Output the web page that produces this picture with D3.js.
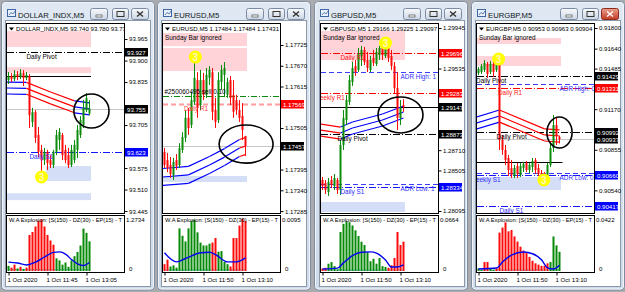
<!DOCTYPE html>
<meta charset="utf-8">
<style>
body{margin:0;background:#a9abae;}
svg{display:block;font-family:"Liberation Sans",Arial,sans-serif;}
</style>
<script src="https://cdn.jsdelivr.net/npm/d3@7"></script>
<body>
<svg id="chart" width="625" height="292"></svg>
<script>
var titles = ["DOLLAR_INDX,M5", "EURUSD,M5", "GBPUSD,M5", "EURGBP,M5"]
var infoLines = ["DOLLAR_INDX,M5 93.740 93.780 93.735", "EURUSD,M5 1.17484 1.17484 1.17431",
  "GBPUSD,M5 1.29166 1.29225 1.29097", "EURGBP,M5 0.90953 0.90963 0.90904"]
var sundayNote = [false, true, true, true]
var priceRanges = [[93.4391, 94.0135], [1.172799, 1.177833], [1.280747, 1.299956], [0.903644, 0.918388]]
var priceDigits = [3, 5, 5, 5]
var subMaxes = [1.2734, 0.0095, 0.0664, 0.0422]
var subMaxLabels = ["1.2734", "0.0095", "0.0664", "0.0422"]
var dzLevels = [0.03, 0.0002, 0.0012, 0.0008]
var bandHalf = [0.018, 0.000225, 0.000607, 0.00047]
var timeLabelsUsdx = ["1 Oct 2020", "1 Oct 11:45", "1 Oct 13:05"]
var timeLabelsFx = ["1 Oct 2020", "1 Oct 11:50", "1 Oct 13:10"]
var timeBars = [0, 13, 26]
var explosionLabel = "W.A Explosion: [S(150) - DZ(30) - EP(15) - T"

// candles: [open, high, low, close]
var usdxCandles = [
 [93.841,93.865,93.829,93.853],[93.853,93.862,93.835,93.844],[93.844,93.871,93.838,93.859],[93.859,93.868,93.841,93.850],
 [93.850,93.874,93.844,93.862],[93.862,93.871,93.823,93.847],[93.847,93.865,93.841,93.856],[93.853,93.859,93.696,93.735],
 [93.714,93.757,93.699,93.744],[93.744,93.750,93.651,93.666],[93.675,93.699,93.608,93.624],[93.630,93.645,93.563,93.599],
 [93.599,93.636,93.584,93.624],[93.624,93.630,93.569,93.590],[93.599,93.614,93.575,93.584],[93.584,93.630,93.575,93.624],
 [93.624,93.690,93.614,93.675],[93.660,93.696,93.630,93.684],[93.675,93.681,93.599,93.614],[93.630,93.645,93.590,93.599],
 [93.614,93.636,93.575,93.584],[93.584,93.645,93.578,93.630],[93.599,93.660,93.590,93.645],[93.630,93.705,93.605,93.690],
 [93.675,93.732,93.666,93.720],[93.705,93.781,93.696,93.757],[93.750,93.802,93.744,93.787],[93.740,93.780,93.735,93.755]]
var eurusdCandles = [
 [1.17442,1.17452,1.17399,1.17407],[1.17420,1.17439,1.17388,1.17399],[1.17407,1.17428,1.17373,1.17383],[1.17380,1.17426,1.17367,1.17415],
 [1.17420,1.17436,1.17394,1.17404],[1.17407,1.17465,1.17399,1.17452],[1.17447,1.17494,1.17439,1.17481],[1.17479,1.17553,1.17468,1.17532],
 [1.17532,1.17558,1.17487,1.17505],[1.17513,1.17601,1.17505,1.17579],[1.17574,1.17685,1.17566,1.17638],[1.17632,1.17653,1.17532,1.17558],
 [1.17566,1.17659,1.17553,1.17632],[1.17632,1.17651,1.17579,1.17593],[1.17593,1.17664,1.17585,1.17646],[1.17638,1.17669,1.17619,1.17659],
 [1.17653,1.17664,1.17526,1.17548],[1.17553,1.17585,1.17505,1.17521],[1.17526,1.17653,1.17518,1.17632],[1.17627,1.17672,1.17606,1.17659],
 [1.17646,1.17680,1.17587,1.17664],[1.17593,1.17638,1.17585,1.17627],[1.17632,1.17643,1.17566,1.17585],[1.17593,1.17632,1.17532,1.17548],
 [1.17579,1.17593,1.17540,1.17553],[1.17553,1.17579,1.17521,1.17532],[1.17537,1.17571,1.17473,1.17500],[1.17484,1.17484,1.17431,1.17457]]
var gbpusdCandles = [
 [1.28408,1.28439,1.28307,1.28348],[1.28378,1.28408,1.28267,1.28307],[1.28287,1.28429,1.28247,1.28388],[1.28408,1.28449,1.28327,1.28358],
 [1.28348,1.28469,1.28307,1.28429],[1.28408,1.28429,1.28267,1.28307],[1.28307,1.28813,1.28257,1.28762],[1.28762,1.29116,1.28712,1.29035],
 [1.29015,1.29268,1.28964,1.29217],[1.29197,1.29470,1.29167,1.29419],[1.29399,1.29601,1.29359,1.29541],[1.29561,1.29622,1.29460,1.29500],
 [1.29520,1.29743,1.29500,1.29682],[1.29662,1.29763,1.29561,1.29723],[1.29723,1.29753,1.29571,1.29601],[1.29622,1.29702,1.29500,1.29541],
 [1.29520,1.29662,1.29500,1.29622],[1.29642,1.29723,1.29561,1.29591],[1.29581,1.29743,1.29561,1.29702],[1.29672,1.29763,1.29622,1.29743],
 [1.29743,1.29783,1.29622,1.29672],[1.29662,1.29783,1.29642,1.29753],[1.29743,1.29763,1.29601,1.29642],[1.29662,1.29723,1.29520,1.29561],
 [1.29561,1.29601,1.29288,1.29338],[1.29338,1.29500,1.28914,1.29035],[1.29035,1.29217,1.28964,1.29136],[1.29166,1.29225,1.29097,1.29147]]
var eurgbpCandles = [
 [0.91451,0.91497,0.91435,0.91482],[0.91459,0.91521,0.91443,0.91505],[0.91474,0.91552,0.91459,0.91528],[0.91521,0.91536,0.91412,0.91443],
 [0.91459,0.91544,0.91443,0.91521],[0.91521,0.91536,0.91420,0.91459],[0.91474,0.91536,0.91459,0.91521],[0.91521,0.91544,0.90853,0.90931],
 [0.90931,0.90970,0.90815,0.90853],[0.90853,0.90892,0.90737,0.90776],[0.90791,0.90815,0.90652,0.90698],[0.90714,0.90776,0.90636,0.90659],
 [0.90652,0.90737,0.90636,0.90714],[0.90729,0.90752,0.90636,0.90667],[0.90659,0.90752,0.90644,0.90729],[0.90714,0.90760,0.90683,0.90745],
 [0.90752,0.90768,0.90683,0.90698],[0.90698,0.90752,0.90675,0.90737],[0.90721,0.90791,0.90683,0.90768],[0.90776,0.90791,0.90667,0.90698],
 [0.90714,0.90745,0.90652,0.90667],[0.90675,0.90698,0.90628,0.90644],[0.90652,0.90683,0.90613,0.90628],[0.90636,0.90752,0.90621,0.90737],
 [0.90737,0.90908,0.90721,0.90869],[0.90869,0.91125,0.90838,0.91047],[0.91047,0.91102,0.90892,0.90962],[0.90953,0.90963,0.90904,0.90937]]

// explosion histogram: + green, - red
var usdxHist = [0.12,-0.08,-0.15,0.06,-0.10,0.05,-0.08,-0.85,-0.92,-1.05,-1.18,-1.22,-1.05,-0.85,-0.72,-0.62,
 0.30,0.25,0.15,0.20,0.10,0.25,0.35,0.45,0.60,1.00,0.90,0.70]
var eurusdHist = [-0.0012,-0.0020,0.0008,0.0010,0.0006,0.0075,0.0062,0.0052,0.0075,0.0088,0.0090,0.0068,0.0050,0.0045,
 0.0045,0.0048,-0.0050,-0.0058,0.0034,0.0035,0.0016,0.0012,-0.0008,-0.0058,-0.0058,-0.0080,-0.0092,-0.0088]
var gbpusdHist = [-0.003,-0.004,0.009,0.011,0.006,0.002,0.048,0.058,0.061,0.060,0.056,0.050,0.043,0.036,
 0.032,0.023,0.012,0.015,0.009,0.016,0.006,0.005,-0.004,-0.007,-0.016,-0.048,-0.032,-0.036]
var eurgbpHist = [0.002,0.001,-0.007,-0.007,0.002,0.001,-0.002,-0.030,-0.034,-0.038,-0.031,-0.032,-0.027,-0.023,
 -0.019,-0.016,-0.014,-0.011,-0.008,-0.006,-0.005,-0.004,-0.004,-0.006,0.007,0.027,0.020,0.015]

// explosion line: [bar, value]
var usdxSignal = [[0,0.21],[3,0.19],[6,0.14],[9,0.21],[12,0.33],[15,0.44],[17,0.45],[19,0.40],[21,0.27],[23,0.17],[25,0.13],[27,0.20]]
var eurusdSignal = [[0,0.0032],[4,0.0016],[7,0.0022],[12,0.0032],[15,0.0033],[17,0.0029],[21,0.0016],[24,0.0016],[27,0.0023]]
var gbpusdSignal = [[0,0.0025],[5,0.0035],[7,0.010],[10,0.019],[13,0.023],[16,0.0235],[18,0.022],[21,0.0135],[23,0.005],[25,0.005],[27,0.0074]]
var eurgbpSignal = [[0,0.0016],[6,0.0023],[8,0.007],[11,0.0125],[15,0.0148],[18,0.0135],[21,0.0088],[23,0.0025],[25,0.0016],[27,0.0045]]

// channel middle line [bar, price] and trend of each segment
var usdxBand = [[-1,93.817],[6,93.816],[14,93.787],[22,93.760],[27,93.754]]
var usdxTrend = ["up","down","down","up"]
var eurusdBand = [[-1,1.17375],[8,1.17381],[15,1.17407],[20,1.17428],[25,1.17452],[27,1.17457]]
var eurusdTrend = ["up","up","up","up","down"]
var gbpusdBand = [[-1,1.28914],[6,1.28883],[10,1.28934],[20,1.29015],[27,1.29096]]
var gbpusdTrend = ["down","up","up","up"]
var eurgbpBand = [[-1,0.91060],[7,0.91117],[22,0.90970],[27,0.90962]]
var eurgbpTrend = ["up","down","down"]

// zones: [fromBar, toBar, high, low, type]
var usdxZones = [[0,27,93.989,93.941,"r"],[0,27,93.880,93.862,"r"],[13,27,93.581,93.536,"s"],[0,27,93.499,93.478,"s"]]
var eurusdZones = [[0,27,1.17757,1.17722,"r"],[0,27,1.17717,1.17656,"r"],[0,27,1.17378,1.17362,"s"]]
var gbpusdZones = [[0,27,1.29915,1.29622,"r"],[0,27,1.28186,1.28085,"s"]]
var eurgbpZones = [[0,27,0.91722,0.91676,"r"],[0,27,0.91583,0.91505,"r"],[0,27,0.90644,0.90543,"s"]]

var usdxLevels = [
 {p:93.755, kind:"bid", box:true},
 {p:93.927, kind:"pivot", box:true, label:"Daily Pivot", bar:6},
 {p:93.853, kind:"close", to:27.5},
 {p:93.623, kind:"sup", box:true, label:"Daily S1", bar:7}]
var eurusdLevels = [
 {p:1.17457, kind:"bid", box:true},
 {p:1.17590, kind:"order", label:"#250060495 sell 0.10", bar:0, above:true},
 {p:1.17569, kind:"resSoft", box:true, label:"Daily R1", bar:6.5}]
var gbpusdLevels = [
 {p:1.29696, kind:"res", box:true, label:"Daily R1", bar:6},
 {p:1.29500, kind:"adr", label:"ADR High: 1", bar:26},
 {p:1.29283, kind:"res", box:true, label:"Weekly R1", bar:-2.8},
 {p:1.29147, kind:"close", box:true},
 {p:1.28873, kind:"pivot", box:true, label:"Daily Pivot", bar:5},
 {p:1.28368, kind:"adr", label:"ADR Low: 1", bar:26},
 {p:1.28334, kind:"sup", box:true, label:"Daily S1", bar:6}]
var eurgbpLevels = [
 {p:0.90937, kind:"bid", box:true},
 {p:0.91429, kind:"pivot", box:true, label:"Daily Pivot", bar:-0.8},
 {p:0.91366, kind:"adr", label:"ADR High: 0", bar:27},
 {p:0.91331, kind:"res", box:true, label:"Daily R1", bar:6.5},
 {p:0.90992, kind:"pivot", box:true, label:"Daily Pivot", bar:6},
 {p:0.90760, kind:"close", to:28},
 {p:0.90675, kind:"adr", label:"ADR Low: 0", bar:27},
 {p:0.90660, kind:"sup", box:true, label:"Weekly S1", bar:-2.8},
 {p:0.90417, kind:"sup", box:true, label:"Daily S1", bar:7}]

// "3" markers [bar, price] and the circled area [fromBar, toBar, high, low]
var usdxMarks = [[11,93.548]]
var eurusdMarks = [[10.3,1.17693]]
var gbpusdMarks = [[21,1.29793]]
var eurgbpMarks = [[6.7,0.91559],[21.8,0.90621]]
var usdxEllipse = [21.8,33.5,93.799,93.696]
var eurusdEllipse = [18.2,36.2,1.17513,1.17412]
var gbpusdEllipse = [18.5,33.5,1.29248,1.28884]
var eurgbpEllipse = [22.8,31.2,0.91109,0.90869]

var usdxTicks = [93.965,93.900,93.835,93.770,93.705,93.640,93.575,93.510,93.445]
var eurusdTicks = [1.17725,1.17670,1.17615,1.17560,1.17505,1.17450,1.17395,1.17340,1.17285]
var gbpusdTicks = [1.29945,1.29740,1.29535,1.29330,1.29125,1.28915,1.28710,1.28505,1.28300,1.28095]
var eurgbpTicks = [0.91800,0.91640,0.91485,0.91325,0.91170,0.91010,0.90855,0.90695,0.90540,0.90380]

var charts = [
 {candles:usdxCandles, hist:usdxHist, signal:usdxSignal, band:usdxBand, trend:usdxTrend, zones:usdxZones,
  levels:usdxLevels, marks:usdxMarks, ellipse:usdxEllipse, ticks:usdxTicks, times:timeLabelsUsdx},
 {candles:eurusdCandles, hist:eurusdHist, signal:eurusdSignal, band:eurusdBand, trend:eurusdTrend, zones:eurusdZones,
  levels:eurusdLevels, marks:eurusdMarks, ellipse:eurusdEllipse, ticks:eurusdTicks, times:timeLabelsFx},
 {candles:gbpusdCandles, hist:gbpusdHist, signal:gbpusdSignal, band:gbpusdBand, trend:gbpusdTrend, zones:gbpusdZones,
  levels:gbpusdLevels, marks:gbpusdMarks, ellipse:gbpusdEllipse, ticks:gbpusdTicks, times:timeLabelsFx},
 {candles:eurgbpCandles, hist:eurgbpHist, signal:eurgbpSignal, band:eurgbpBand, trend:eurgbpTrend, zones:eurgbpZones,
  levels:eurgbpLevels, marks:eurgbpMarks, ellipse:eurgbpEllipse, ticks:eurgbpTicks, times:timeLabelsFx}
]
charts.forEach(function(c, k){
	c.title = titles[k]; c.info = infoLines[k]; c.sunday = sundayNote[k]
	c.range = priceRanges[k]; c.digits = priceDigits[k]; c.subMax = subMaxes[k]
	c.subLabel = subMaxLabels[k]; c.dz = dzLevels[k]; c.half = bandHalf[k]; c.active = (k == 3)
})

// ---- layout / styles ----
var FRAME_X = [1, 157, 314, 471], FRAME_W = 153
var PLOT_X = [6, 162, 320, 476], PLOT_W = 118, AREA_W = 144
var TOP = 23, MAIN_B = 213, SUB_T = 215, SUB_B = 272
var FS = 6.1
var UP = "#0b8c0b", DN = "#ff0a0a"
var LEVEL = {
	pivot:{stroke:"#000", dash:"7,2,1,2", box:"#000", text:"#000"},
	res:{stroke:"#ff0000", dash:"7,2,1,2", box:"#ff0000", text:"#ff2020"},
	resSoft:{stroke:"#ff9c9c", dash:"5,3", width:2, box:"#ff0000", text:"#ff4040"},
	sup:{stroke:"#1414ff", dash:"7,2,1,2", box:"#0000ff", text:"#2b2bff"},
	adr:{stroke:"#3c3cff", dash:"5,3", text:"#3030ff"},
	bid:{stroke:"#c6c6c6", box:"#000"},
	close:{stroke:"#000", box:"#000"},
	order:{stroke:"#0a8a0a", dash:"6,2,1,2", text:"#000"}
}

var svg = d3.select("#chart")
var defs = svg.append("defs")
function grad(id, a, b){
	var gr = defs.append("linearGradient").attr("id", id).attr("x1",0).attr("y1",0).attr("x2",0).attr("y2",1)
	gr.append("stop").attr("offset","0").attr("stop-color", a)
	gr.append("stop").attr("offset","1").attr("stop-color", b)
}
grad("btn", "#f8fafd", "#cbd6e4")
grad("btnRed", "#eba08f", "#c23a24")
grad("frame", "#dfe8f3", "#cfdbea")

function drawWindow(c, k){
	var fx = FRAME_X[k], px = PLOT_X[k], pr = px + PLOT_W, fr = fx + FRAME_W
	var g = svg.append("g")

	// window frame + title bar
	g.append("rect").attr("x", fx+0.5).attr("y", 1.5).attr("width", FRAME_W).attr("height", 288.5)
		.attr("rx", 4).attr("fill", "url(#frame)").attr("stroke", "#7c8ca2")
	g.append("rect").attr("x", fx+1.5).attr("y", 2.5).attr("width", FRAME_W-2).attr("height", 286.5)
		.attr("rx", 3).attr("fill", "none").attr("stroke", "#f1f5fa")
	g.append("rect").attr("x", fx+6.5).attr("y", 9.5).attr("width", 8).attr("height", 7)
		.attr("fill", "#eaf1fa").attr("stroke", "#3d66a3")
	g.append("path").attr("d", "M"+(fx+8)+",15l2,-2.5l2,1.5l2,-3").attr("fill","none")
		.attr("stroke","#3d66a3").attr("stroke-width",0.8)
	g.append("text").attr("x", fx+17).attr("y", 17.5).attr("font-size", 7.7).attr("fill", "#101820").text(c.title)
	var btns = [[fr-64, 17], [fr-42, 16], [fr-23, 17]]
	btns.forEach(function(b, j){
		var red = (j == 2 && c.active)
		g.append("rect").attr("x", b[0]+0.5).attr("y", 8.5).attr("width", b[1]).attr("height", 11).attr("rx", 2)
			.attr("fill", red ? "url(#btnRed)" : "url(#btn)").attr("stroke", red ? "#8d2a1b" : "#7a8ba3")
		var cx = b[0] + b[1]/2 + 0.5, cy = 14
		if (j == 0) g.append("rect").attr("x", cx-3).attr("y", cy+1).attr("width", 6).attr("height", 2)
			.attr("fill", "#fff").attr("stroke", "#333").attr("stroke-width", 0.6)
		if (j == 1) g.append("rect").attr("x", cx-3.5).attr("y", cy-2.5).attr("width", 7).attr("height", 5)
			.attr("fill", "none").attr("stroke", "#333").attr("stroke-width", 1)
		if (j == 2) g.append("path").attr("d", "M"+(cx-3)+","+(cy-2.5)+"L"+(cx+3)+","+(cy+2.5)+"M"+(cx+3)+","+(cy-2.5)+"L"+(cx-3)+","+(cy+2.5))
			.attr("stroke", red ? "#fff" : "#333").attr("stroke-width", 1.4)
	})

	// chart client area
	g.append("rect").attr("x", px-0.5).attr("y", 20.5).attr("width", AREA_W+1).attr("height", 266)
		.attr("fill", "#fff").attr("stroke", "#8d99a8")

	var xs = d3.scaleLinear().domain([0, 1]).range([px+2.5, px+5.5])
	var ys = d3.scaleLinear().domain(c.range).range([MAIN_B, TOP])
	var ss = d3.scaleLinear().domain([0, c.subMax]).range([SUB_B-1, SUB_T+2])

	defs.append("clipPath").attr("id", "mc"+k).append("rect")
		.attr("x", px+1).attr("y", TOP+1).attr("width", PLOT_W-1).attr("height", MAIN_B-TOP-1)
	defs.append("clipPath").attr("id", "sc"+k).append("rect")
		.attr("x", px+1).attr("y", SUB_T+1).attr("width", PLOT_W-1).attr("height", SUB_B-SUB_T-1)
	var mg = g.append("g").attr("clip-path", "url(#mc"+k+")")
	var sg = g.append("g").attr("clip-path", "url(#sc"+k+")")

	// zones
	mg.selectAll("rect.zone").data(c.zones).join("rect").attr("class","zone")
		.attr("x", function(d){ return xs(d[0]) - 1.5 })
		.attr("width", function(d){ return xs(d[1]) - xs(d[0]) + 3 })
		.attr("y", function(d){ return ys(d[2]) })
		.attr("height", function(d){ return ys(d[3]) - ys(d[2]) })
		.attr("fill", function(d){ return d[4] == "s" ? "#d4def6" : "#ffd3d8" })

	// horizontal levels
	mg.selectAll("line.lvl").data(c.levels).join("line").attr("class","lvl")
		.attr("x1", px+1).attr("x2", function(d){ return d.to != null ? xs(d.to) : pr })
		.attr("y1", function(d){ return Math.round(ys(d.p)) + 0.5 })
		.attr("y2", function(d){ return Math.round(ys(d.p)) + 0.5 })
		.attr("stroke", function(d){ return LEVEL[d.kind].stroke })
		.attr("stroke-width", function(d){ return LEVEL[d.kind].width || 1 })
		.attr("stroke-dasharray", function(d){ return LEVEL[d.kind].dash || null })

	// channel (three lines)
	;[-1, 0, 1].forEach(function(s){
		c.band.slice(1).forEach(function(b, j){
			var a = c.band[j]
			mg.append("line").attr("x1", xs(a[0])).attr("y1", ys(a[1] + s*c.half))
				.attr("x2", xs(b[0])).attr("y2", ys(b[1] + s*c.half))
				.attr("stroke", c.trend[j] == "up" ? "#0000ff" : "#ff0000").attr("stroke-width", 1.2)
		})
	})

	// candles
	mg.selectAll("line.wick").data(c.candles).join("line").attr("class","wick")
		.attr("x1", function(d,i){ return xs(i) }).attr("x2", function(d,i){ return xs(i) })
		.attr("y1", function(d){ return ys(d[1]) }).attr("y2", function(d){ return ys(d[2]) })
		.attr("stroke", function(d){ return d[3] >= d[0] ? UP : DN })
	mg.selectAll("rect.body").data(c.candles).join("rect").attr("class","body")
		.attr("x", function(d,i){ return xs(i) - 1 }).attr("width", 2)
		.attr("y", function(d){ return ys(Math.max(d[0], d[3])) })
		.attr("height", function(d){ return Math.max(1, Math.abs(ys(d[0]) - ys(d[3]))) })
		.attr("fill", function(d){ return d[3] >= d[0] ? UP : DN })

	// level captions
	mg.selectAll("text.lvl").data(c.levels.filter(function(d){ return d.label })).join("text").attr("class","lvl")
		.attr("x", function(d){ return xs(d.bar) })
		.attr("y", function(d){ return ys(d.p) + (d.above ? -1.5 : 7) })
		.attr("font-size", FS + 0.3).attr("fill", function(d){ return LEVEL[d.kind].text }).text(function(d){ return d.label })

	// circled area and markers
	var e = c.ellipse
	mg.append("ellipse").attr("cx", (xs(e[0]) + xs(e[1]))/2).attr("rx", (xs(e[1]) - xs(e[0]))/2)
		.attr("cy", (ys(e[2]) + ys(e[3]))/2).attr("ry", Math.abs(ys(e[3]) - ys(e[2]))/2)
		.attr("fill", "none").attr("stroke", "#000").attr("stroke-width", 1.6)
	var mk = mg.selectAll("g.mk").data(c.marks).join("g").attr("class","mk")
		.attr("transform", function(d){ return "translate(" + xs(d[0]) + "," + ys(d[1]) + ")" })
	mk.append("circle").attr("r", 6.5).attr("fill", "#ffff00")
	mk.append("text").attr("text-anchor","middle").attr("y", 3.6).attr("font-size", 10).attr("font-weight","bold")
		.attr("fill", "#fff7b8").text("3")

	// info line
	mg.append("path").attr("d", "M"+(px+3)+",27.5h5l-2.5,3z").attr("fill", "#000")
	mg.append("text").attr("x", px+10).attr("y", 31).attr("font-size", FS).attr("fill", "#000").text(c.info)
	if (c.sunday) mg.append("text").attr("x", px+3).attr("y", 39.5).attr("font-size", FS+0.3).attr("fill", "#000").text("Sunday Bar ignored")

	// plot borders
	g.append("rect").attr("x", px+0.5).attr("y", TOP+0.5).attr("width", PLOT_W).attr("height", MAIN_B-TOP)
		.attr("fill", "none").attr("stroke", "#000")
	g.append("rect").attr("x", px+0.5).attr("y", SUB_T+0.5).attr("width", PLOT_W).attr("height", SUB_B-SUB_T)
		.attr("fill", "none").attr("stroke", "#000")

	// price axis (grid labels hidden where a level box sits on top of them)
	var fmt = d3.format("." + c.digits + "f")
	var boxed = c.levels.filter(function(d){ return d.box })
	var freeTicks = c.ticks.filter(function(t){
		return boxed.every(function(b){ return Math.abs(ys(t) - ys(b.p)) > 7 })
	})
	g.append("g").attr("transform", "translate(" + (pr+0.5) + ",0)")
		.call(d3.axisRight(ys).tickValues(freeTicks).tickSize(3).tickPadding(1.5).tickFormat(fmt))
		.call(function(a){ a.select(".domain").remove() })
		.call(function(a){ a.selectAll("line").attr("stroke", "#000") })
		.call(function(a){ a.selectAll("text").attr("font-size", FS).attr("font-family", null).attr("fill", "#000") })
	var boxes = g.selectAll("g.box").data(boxed).join("g").attr("class","box")
		.attr("transform", function(d){ return "translate(" + (pr+1) + "," + Math.round(ys(d.p)) + ")" })
	boxes.append("rect").attr("x", 0).attr("y", -4).attr("width", 23).attr("height", 8.5)
		.attr("fill", function(d){ return LEVEL[d.kind].box })
	boxes.append("text").attr("x", 2).attr("y", 2.6).attr("font-size", FS).attr("fill", "#fff")
		.text(function(d){ return fmt(d.p) })

	// explosion sub window
	sg.append("line").attr("x1", xs(0)).attr("x2", xs(c.hist.length-1)).attr("y1", ss(c.dz)).attr("y2", ss(c.dz))
		.attr("stroke", "#2fb3c4").attr("stroke-dasharray", "2,1")
	sg.selectAll("rect.hb").data(c.hist).join("rect").attr("class","hb")
		.attr("x", function(d,i){ return xs(i) - 1 }).attr("width", 2)
		.attr("y", function(d){ return ss(Math.abs(d)) })
		.attr("height", function(d){ return ss(0) - ss(Math.abs(d)) })
		.attr("fill", function(d){ return d >= 0 ? "#078a07" : "#ff0a0a" })
	sg.append("path").datum(c.signal)
		.attr("d", d3.line().x(function(d){ return xs(d[0]) }).y(function(d){ return ss(d[1]) }).curve(d3.curveMonotoneX))
		.attr("fill", "none").attr("stroke", "#0000ee").attr("stroke-width", 1.4)
	sg.append("text").attr("x", px+3).attr("y", SUB_T+7).attr("font-size", FS).attr("fill", "#000")
		.attr("textLength", PLOT_W-5).attr("lengthAdjust", "spacingAndGlyphs").text(explosionLabel)
	g.append("text").attr("x", pr+2).attr("y", SUB_T+7).attr("font-size", FS).attr("fill", "#000").text(c.subLabel)
	g.append("text").attr("x", pr+5).attr("y", SUB_B-1).attr("font-size", FS).attr("fill", "#000").text("0")

	// time axis
	g.append("g").attr("transform", "translate(0," + (SUB_B+0.5) + ")")
		.call(d3.axisBottom(xs).tickValues(timeBars).tickSize(3).tickPadding(2)
			.tickFormat(function(d, i){ return c.times[i] }))
		.call(function(a){ a.select(".domain").remove() })
		.call(function(a){ a.selectAll("line").attr("stroke", "#000") })
		.call(function(a){ a.selectAll("text").attr("text-anchor", "start").attr("dx", -1.5)
			.attr("font-size", FS).attr("font-family", null).attr("fill", "#000") })
}

charts.forEach(drawWindow)
</script>
